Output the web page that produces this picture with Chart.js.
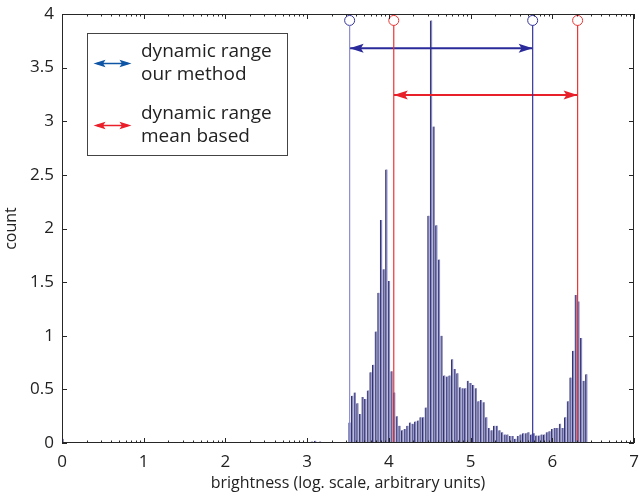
<!DOCTYPE html>
<html>
<head>
<meta charset="utf-8">
<script src="https://cdn.jsdelivr.net/npm/chart.js@4.4.1/dist/chart.umd.min.js"></script>
<style>
  html, body { margin: 0; padding: 0; background: #fff; }
  #wrap { width: 640px; height: 496px; }
</style>
</head>
<body>
<div id="wrap"><canvas id="c" width="640" height="496"></canvas></div>
<script>
// ---------- data ----------
const histStart = 3.488;          // centre of the first bin of the main histogram
const binWidth = 0.0322;          // bin width (log units)
const counts = [0.01,0.19,0.44,0.47,0.37,0.27,0.43,0.41,0.49,0.66,0.73,1.04,1.40,2.08,1.62,2.55,1.51,0.67,0.47,0.25,
  0.16,0.12,0.13,0.16,0.19,0.18,0.20,0.21,0.24,0.24,0.33,2.12,3.94,2.95,2.03,1.71,1.00,0.63,0.62,0.63,
  0.78,0.69,0.65,0.52,0.51,0.51,0.58,0.56,0.54,0.51,0.39,0.40,0.38,0.24,0.14,0.12,0.16,0.16,0.12,0.10,
  0.08,0.08,0.065,0.065,0.04,0.065,0.08,0.09,0.09,0.10,0.08,0.09,0.07,0.07,0.08,0.08,0.10,0.11,0.13,0.14,
  0.14,0.18,0.14,0.24,0.39,0.61,0.86,1.38,1.32,0.98,0.58,0.64,0,0.01];
const tailX = [0.01, 2.78, 3.02, 3.06, 3.10, 3.13, 3.16, 3.20, 3.23, 3.29, 3.39];
const tailCounts = [0.04, 0.01, 0.01, 0.015, 0.02, 0.01, 0.015, 0.01, 0.01, 0.01, 0.01];

const ourMethodRange = [3.52, 5.76];
const meanBasedRange = [4.06, 6.31];
const markerLevel = 3.94;
const lineTop = 3.895;
const ourArrowY = 3.68;
const meanArrowY = 3.245;

const xTicks = [0,1,2,3,4,5,6,7];
const yTicks = [0,0.5,1,1.5,2,2.5,3,3.5,4];
const legendLabels = [["dynamic range", "our method"], ["dynamic range", "mean based"]];

// ---------- build datasets ----------
const barData = counts.map((v, i) => ({ x: histStart + i * binWidth, y: v }))
  .concat(tailX.map((x, i) => ({ x: x, y: tailCounts[i] })));

const FONT = "'Open Sans', 'Noto Sans', sans-serif";
const BLUE = '#33339c';
const BLUE_PALE = '#8c8cd2';
const RED = '#ec3434';

function vline(x, top, color) {
  return { type: 'line', data: [{ x: x, y: 0 }, { x: x, y: top }], borderColor: color, borderWidth: 1.2,
    pointRadius: 0, fill: false, order: 0 };
}

const datasets = [
  { type: 'bar', data: barData, backgroundColor: '#8888c0', borderColor: '#31316c',
    borderWidth: { left: 1.4, right: 0, top: 0, bottom: 0 }, borderSkipped: false,
    barThickness: 2.1, order: 5 },
  vline(ourMethodRange[0], lineTop, BLUE_PALE),
  vline(meanBasedRange[0], lineTop, RED),
  vline(ourMethodRange[1], lineTop, BLUE),
  vline(meanBasedRange[1], lineTop, RED),
  { type: 'scatter', data: [{ x: ourMethodRange[0], y: markerLevel }, { x: ourMethodRange[1], y: markerLevel }],
    pointStyle: 'circle', pointRadius: 5, pointBorderColor: BLUE, pointBackgroundColor: 'rgba(0,0,0,0)',
    pointBorderWidth: 1, showLine: false, order: 0 },
  { type: 'scatter', data: [{ x: meanBasedRange[0], y: markerLevel }, { x: meanBasedRange[1], y: markerLevel }],
    pointStyle: 'circle', pointRadius: 5, pointBorderColor: RED, pointBackgroundColor: 'rgba(0,0,0,0)',
    pointBorderWidth: 1, showLine: false, order: 0 },
  { type: 'line', data: [{ x: ourMethodRange[0], y: ourArrowY }, { x: ourMethodRange[1], y: ourArrowY }],
    borderColor: '#2a2a9a', borderWidth: 2, pointRadius: 0, fill: false, arrow: true, order: 0 },
  { type: 'line', data: [{ x: meanBasedRange[0], y: meanArrowY }, { x: meanBasedRange[1], y: meanArrowY }],
    borderColor: '#e8202a', borderWidth: 2, pointRadius: 0, fill: false, arrow: true, order: 0 }
];

function drawArrowHead(ctx, tipX, tipY, dir, len, half, color) {
  ctx.beginPath();
  ctx.moveTo(tipX, tipY);
  ctx.lineTo(tipX - dir * len, tipY - half);
  ctx.lineTo(tipX - dir * len * 0.8, tipY);
  ctx.lineTo(tipX - dir * len, tipY + half);
  ctx.closePath();
  ctx.fillStyle = color;
  ctx.fill();
}

const decorPlugin = {
  id: 'decor',
  afterDatasetsDraw(chart) {
    const ctx = chart.ctx;
    const ca = chart.chartArea;
    const xs = chart.scales.x, ys = chart.scales.y;
    ctx.save();
    // arrow heads for arrow datasets
    chart.data.datasets.forEach((ds) => {
      if (!ds.arrow) return;
      const p0 = ds.data[0], p1 = ds.data[1];
      const x0 = xs.getPixelForValue(p0.x), x1 = xs.getPixelForValue(p1.x);
      const y = ys.getPixelForValue(p0.y);
      drawArrowHead(ctx, x0, y, -1, 14, 4.5, ds.borderColor);
      drawArrowHead(ctx, x1, y, 1, 14, 4.5, ds.borderColor);
    });
    // axes box
    ctx.strokeStyle = '#262626';
    ctx.lineWidth = 1;
    ctx.strokeRect(Math.round(ca.left) + 0.5, Math.round(ca.top) + 0.5,
      Math.round(ca.right - ca.left) - 1, Math.round(ca.bottom - ca.top) - 1);
    // ticks (inward)
    ctx.beginPath();
    xTicks.forEach(t => {
      const px = Math.round(xs.getPixelForValue(t)) + 0.5;
      ctx.moveTo(px, ca.bottom); ctx.lineTo(px, ca.bottom - 5);
      ctx.moveTo(px, ca.top); ctx.lineTo(px, ca.top + 5);
      if (t < 7) {
        for (let k = 2; k <= 9; k++) {
          const mx = Math.round(xs.getPixelForValue(t + Math.log10(k))) + 0.5;
          ctx.moveTo(mx, ca.bottom); ctx.lineTo(mx, ca.bottom - 2.5);
          ctx.moveTo(mx, ca.top); ctx.lineTo(mx, ca.top + 2.5);
        }
      }
    });
    yTicks.forEach(t => {
      const py = Math.round(ys.getPixelForValue(t)) + 0.5;
      ctx.moveTo(ca.left, py); ctx.lineTo(ca.left + 5, py);
      ctx.moveTo(ca.right, py); ctx.lineTo(ca.right - 5, py);
    });
    ctx.stroke();

    // legend box
    const lx = 87.5, ly = 33.5, lw = 200, lh = 122;
    ctx.fillStyle = '#fff';
    ctx.fillRect(lx, ly, lw, lh);
    ctx.strokeStyle = '#444';
    ctx.lineWidth = 1;
    ctx.strokeRect(lx, ly, lw, lh);
    const legendColors = ['#0f55a5', '#ea1f2a'];
    const rowY = [63.5, 125.5];
    ctx.font = "19px " + FONT;
    ctx.textBaseline = 'middle';
    ctx.textAlign = 'left';
    legendLabels.forEach((lab, i) => {
      const y = rowY[i];
      ctx.strokeStyle = legendColors[i];
      ctx.lineWidth = 1.5;
      ctx.beginPath(); ctx.moveTo(97, y); ctx.lineTo(128, y); ctx.stroke();
      drawArrowHead(ctx, 93.5, y, -1, 12, 3.8, legendColors[i]);
      drawArrowHead(ctx, 131.5, y, 1, 12, 3.8, legendColors[i]);
      ctx.fillStyle = '#222';
      ctx.fillText(lab[0], 141, y - 12);
      ctx.fillText(lab[1], 141, y + 11.5);
    });
    ctx.restore();
  }
};

new Chart(document.getElementById('c'), {
  type: 'bar',
  data: { datasets: datasets },
  options: {
    responsive: false,
    animation: false,
    devicePixelRatio: 1,
    layout: { padding: { top: 14, right: 4, left: 0, bottom: 0 } },
    plugins: { legend: { display: false }, tooltip: { enabled: false } },
    scales: {
      x: {
        type: 'linear', min: 0, max: 7, offset: false,
        afterBuildTicks: s => { s.ticks = xTicks.map(v => ({ value: v })); },
        afterFit: s => { s.height = 53; s.paddingRight = 0; s.paddingLeft = 0; },
        grid: { display: false, drawTicks: false }, border: { display: false },
        ticks: { color: '#222', font: { family: FONT, size: 17 }, padding: 9,
          maxRotation: 0, callback: v => String(v) },
        title: { display: true, text: 'brightness (log. scale, arbitrary units)', color: '#222',
          font: { family: FONT, size: 16 }, padding: { top: 0, bottom: 3 } }
      },
      y: {
        type: 'linear', min: 0, max: 4,
        afterBuildTicks: s => { s.ticks = yTicks.map(v => ({ value: v })); },
        afterFit: s => { s.width = 62; s.paddingTop = 0; s.paddingBottom = 0; },
        grid: { display: false, drawTicks: false }, border: { display: false },
        ticks: { color: '#222', font: { family: FONT, size: 17 }, padding: 8,
          callback: v => String(v) },
        title: { display: true, text: 'count', color: '#222',
          font: { family: FONT, size: 16 }, padding: { top: 2, bottom: 0 } }
      }
    }
  },
  plugins: [decorPlugin]
});
</script>
</body>
</html>
